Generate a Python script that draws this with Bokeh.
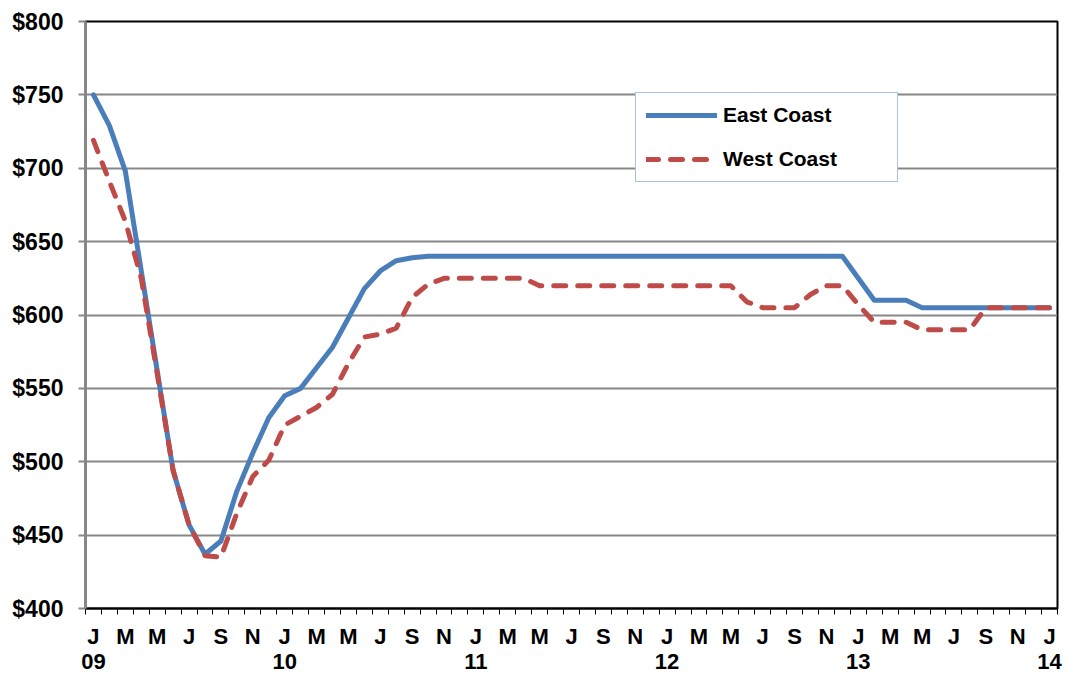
from bokeh.plotting import figure
from bokeh.models import (Range1d, FixedTicker, LinearAxis, Legend, LegendItem,
                          PrintfTickFormatter, ColumnDataSource, Grid)
from bokeh.embed import file_html
from bokeh.resources import INLINE

# ---- data (monthly, Jan 2009 .. Jan 2014) ----
month_letters = ["J", "F", "M", "A", "M", "J", "J", "A", "S", "O", "N", "D"]
year_labels = ["09", "10", "11", "12", "13", "14"]
y_ticks = [400, 450, 500, 550, 600, 650, 700, 750, 800]

east = [750, 729, 698, 630, 562, 494, 457, 437, 446, 480,
        506, 530, 545, 550, 564, 578, 598, 618, 630, 637,
        639, 640, 640, 640, 640, 640, 640, 640, 640, 640,
        640, 640, 640, 640, 640, 640, 640, 640, 640, 640,
        640, 640, 640, 640, 640, 640, 640, 640, 625, 610,
        610, 610, 605, 605, 605, 605, 605, 605, 605, 605,
        605]
west = [719, 691, 664, 625, 560, 494, 457, 436, 435, 465,
        490, 501, 525, 531, 537, 546, 567, 585, 587, 591,
        612, 621, 625, 625, 625, 625, 625, 625, 620, 620,
        620, 620, 620, 620, 620, 620, 620, 620, 620, 620,
        620, 609, 605, 605, 605, 614, 620, 620, 607, 595,
        595, 595, 590, 590, 590, 590, 605, 605, 605, 605,
        605]

n = len(east)
idx = list(range(n))
src = ColumnDataSource(dict(x=idx, east=east, west=west))

FONT = "Liberation Sans"
BLUE = "#4A7EBB"
RED = "#BE4B48"
GRID = "#878787"

p = figure(width=1068, height=677, output_backend="svg", toolbar_location=None,
           x_range=Range1d(-0.5, n - 0.5), y_range=Range1d(y_ticks[0], y_ticks[-1]),
           x_axis_type=None, y_axis_type=None)
p.min_border_left = 85
p.min_border_right = 11
p.min_border_top = 21
p.min_border_bottom = 69
p.background_fill_color = "white"
p.border_fill_color = "white"
p.outline_line_color = "black"
p.outline_line_width = 2

# ---- y axis ----
yax = LinearAxis(ticker=FixedTicker(ticks=y_ticks),
                 formatter=PrintfTickFormatter(format="$%d"))
yax.axis_line_color = GRID
yax.axis_line_width = 3
yax.major_tick_line_color = GRID
yax.major_tick_line_width = 2
yax.major_tick_out = 7
yax.major_tick_in = 0
yax.minor_tick_line_color = None
yax.major_label_text_font = FONT
yax.major_label_text_font_style = "bold"
yax.major_label_text_font_size = "23px"
yax.major_label_text_color = "black"
yax.major_label_standoff = 15
p.add_layout(yax, "left")

# ---- x axis: month letters ----
major = list(range(0, n, 2))
xax = LinearAxis(ticker=FixedTicker(ticks=major,
                                    minor_ticks=[i - 0.5 for i in range(n + 1)]))
xax.major_label_overrides = {i: month_letters[i % 12] for i in major}
xax.axis_line_color = "black"
xax.axis_line_width = 2
xax.major_tick_out = 0
xax.major_tick_in = 0
xax.major_tick_line_color = None
xax.minor_tick_line_color = "black"
xax.minor_tick_line_width = 1
xax.minor_tick_out = 6
xax.minor_tick_in = 0
xax.major_label_text_font = FONT
xax.major_label_text_font_style = "bold"
xax.major_label_text_font_size = "22px"
xax.major_label_text_color = "black"
xax.major_label_standoff = 9
p.add_layout(xax, "below")

# ---- x axis: year labels ----
year_pos = list(range(0, n, 12))
yrax = LinearAxis(ticker=FixedTicker(ticks=year_pos))
yrax.major_label_overrides = {pos: lab for pos, lab in zip(year_pos, year_labels)}
yrax.axis_line_color = None
yrax.major_tick_line_color = None
yrax.minor_tick_line_color = None
yrax.major_tick_out = 0
yrax.major_tick_in = 0
yrax.major_label_text_font = FONT
yrax.major_label_text_font_style = "bold"
yrax.major_label_text_font_size = "22px"
yrax.major_label_text_color = "black"
yrax.major_label_standoff = 2
p.add_layout(yrax, "below")

# ---- grid ----
g = Grid(dimension=1, ticker=FixedTicker(ticks=y_ticks))
g.grid_line_color = GRID
g.grid_line_width = 2
p.add_layout(g)

# ---- lines ----
r_e = p.line("x", "east", source=src, line_color=BLUE, line_width=5,
             line_join="round", line_cap="round")
r_w = p.line("x", "west", source=src, line_color=RED, line_width=5,
             line_dash="12 12", line_join="round", line_cap="round")

legend = Legend(items=[LegendItem(label="East Coast", renderers=[r_e]),
                       LegendItem(label="West Coast", renderers=[r_w])],
                location=(550, 426))
legend.border_line_color = "#5B86C0"
legend.border_line_width = 1
legend.background_fill_color = "white"
legend.background_fill_alpha = 1
legend.label_text_font = FONT
legend.label_text_font_style = "bold"
legend.label_text_font_size = "21px"
legend.label_text_color = "black"
legend.glyph_width = 71
legend.glyph_height = 20
legend.label_height = 20
legend.label_width = 164
legend.label_standoff = 6
legend.spacing = 20
legend.padding = 10
legend.margin = 0
p.add_layout(legend, "center")

open("out.html", "w").write(file_html(p, INLINE))
